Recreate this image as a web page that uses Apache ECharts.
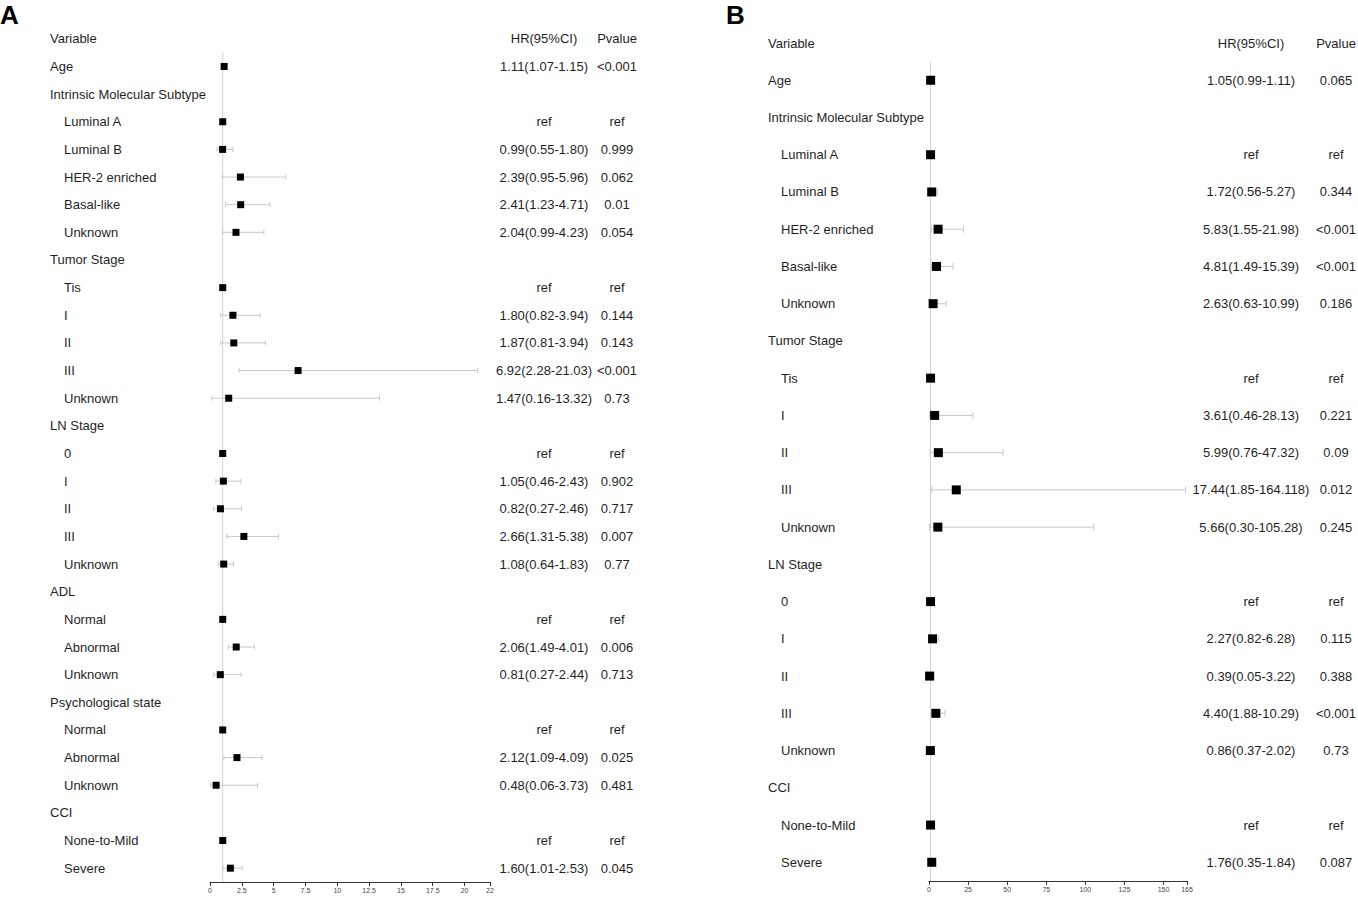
<!DOCTYPE html>
<html>
<head>
<meta charset="utf-8">
<script src="https://cdn.jsdelivr.net/npm/echarts@6/dist/echarts.min.js"></script>
<style>
  html, body { margin: 0; padding: 0; background: #fff; }
  #main { width: 1358px; height: 899px; }
</style>
</head>
<body>
<div id="main"></div>
<script>
// panel A rows (row 0 is the header)
var labelsA = ['Variable', 'Age', 'Intrinsic Molecular Subtype', 'Luminal A', 'Luminal B', 'HER-2 enriched', 'Basal-like', 'Unknown',
  'Tumor Stage', 'Tis', 'I', 'II', 'III', 'Unknown', 'LN Stage', '0', 'I', 'II', 'III', 'Unknown',
  'ADL', 'Normal', 'Abnormal', 'Unknown', 'Psychological state', 'Normal', 'Abnormal', 'Unknown', 'CCI', 'None-to-Mild', 'Severe'];
var indentA = [0, 0, 0, 1, 1, 1, 1, 1, 0, 1, 1, 1, 1, 1, 0, 1, 1, 1, 1, 1, 0, 1, 1, 1, 0, 1, 1, 1, 0, 1, 1];
var hrA = [null, 1.11, null, 1, 0.99, 2.39, 2.41, 2.04, null, 1, 1.80, 1.87, 6.92, 1.47, null, 1, 1.05, 0.82, 2.66, 1.08,
  null, 1, 2.06, 0.81, null, 1, 2.12, 0.48, null, 1, 1.60];
var lowA = [null, 1.07, null, null, 0.55, 0.95, 1.23, 0.99, null, null, 0.82, 0.85, 2.28, 0.16, null, null, 0.46, 0.27, 1.31, 0.64,
  null, null, 1.45, 0.30, null, null, 1.09, 0.06, null, null, 1.01];
var highA = [null, 1.15, null, null, 1.80, 5.96, 4.71, 4.23, null, null, 3.94, 4.35, 21.03, 13.32, null, null, 2.43, 2.46, 5.38, 1.83,
  null, null, 3.50, 2.44, null, null, 4.09, 3.73, null, null, 2.53];
var ciA = ['HR(95%CI)', '1.11(1.07-1.15)', '', 'ref', '0.99(0.55-1.80)', '2.39(0.95-5.96)', '2.41(1.23-4.71)', '2.04(0.99-4.23)',
  '', 'ref', '1.80(0.82-3.94)', '1.87(0.81-3.94)', '6.92(2.28-21.03)', '1.47(0.16-13.32)',
  '', 'ref', '1.05(0.46-2.43)', '0.82(0.27-2.46)', '2.66(1.31-5.38)', '1.08(0.64-1.83)',
  '', 'ref', '2.06(1.49-4.01)', '0.81(0.27-2.44)', '', 'ref', '2.12(1.09-4.09)', '0.48(0.06-3.73)', '', 'ref', '1.60(1.01-2.53)'];
var pA = ['Pvalue', '<0.001', '', 'ref', '0.999', '0.062', '0.01', '0.054', '', 'ref', '0.144', '0.143', '<0.001', '0.73',
  '', 'ref', '0.902', '0.717', '0.007', '0.77', '', 'ref', '0.006', '0.713', '', 'ref', '0.025', '0.481', '', 'ref', '0.045'];

// panel B rows
var labelsB = ['Variable', 'Age', 'Intrinsic Molecular Subtype', 'Luminal A', 'Luminal B', 'HER-2 enriched', 'Basal-like', 'Unknown',
  'Tumor Stage', 'Tis', 'I', 'II', 'III', 'Unknown', 'LN Stage', '0', 'I', 'II', 'III', 'Unknown', 'CCI', 'None-to-Mild', 'Severe'];
var indentB = [0, 0, 0, 1, 1, 1, 1, 1, 0, 1, 1, 1, 1, 1, 0, 1, 1, 1, 1, 1, 0, 1, 1];
var hrB = [null, 1.05, null, 1, 1.72, 5.83, 4.81, 2.63, null, 1, 3.61, 5.99, 17.44, 5.66, null, 1, 2.27, 0.39, 4.40, 0.86, null, 1, 1.76];
var lowB = [null, 0.99, null, null, 0.56, 1.55, 1.49, 0.63, null, null, 0.46, 0.76, 1.85, 0.30, null, null, 0.82, 0.05, 1.88, 0.37, null, null, 0.35];
var highB = [null, 1.11, null, null, 5.27, 21.98, 15.39, 10.99, null, null, 28.13, 47.32, 164.118, 105.28, null, null, 6.28, 3.22, 10.29, 2.02, null, null, 1.84];
var ciB = ['HR(95%CI)', '1.05(0.99-1.11)', '', 'ref', '1.72(0.56-5.27)', '5.83(1.55-21.98)', '4.81(1.49-15.39)', '2.63(0.63-10.99)',
  '', 'ref', '3.61(0.46-28.13)', '5.99(0.76-47.32)', '17.44(1.85-164.118)', '5.66(0.30-105.28)',
  '', 'ref', '2.27(0.82-6.28)', '0.39(0.05-3.22)', '4.40(1.88-10.29)', '0.86(0.37-2.02)', '', 'ref', '1.76(0.35-1.84)'];
var pB = ['Pvalue', '0.065', '', 'ref', '0.344', '<0.001', '<0.001', '0.186', '', 'ref', '0.221', '0.09', '0.012', '0.245',
  '', 'ref', '0.115', '0.388', '<0.001', '0.73', '', 'ref', '0.087'];

var FONT = '"Liberation Sans", Arial, sans-serif';
var TXT = '#1f1f1f';

var myChart = echarts.init(document.getElementById('main'), null, { renderer: 'svg' });

function rowIdx(arr) {
  return arr.map(function (v, i) { return String(i); });
}

// text column drawn on the row scale of the panel
function textColumn(idx, texts, xpos, align, indent) {
  return {
    type: 'custom',
    xAxisIndex: idx, yAxisIndex: idx,
    silent: true,
    clip: false,
    data: texts.map(function (t, i) { return [0, i]; }),
    encode: { x: 0, y: 1 },
    renderItem: function (params, api) {
      var i = api.value(1);
      var y = api.coord([0, i])[1];
      var x = xpos + (indent ? indent[i] * (idx === 0 ? 14 : 13) : 0);
      return {
        type: 'text',
        style: {
          text: texts[i], x: x, y: y,
          align: align, verticalAlign: 'middle',
          font: '13px ' + FONT, fill: TXT
        }
      };
    }
  };
}

function errorBars(idx, low, high, cap) {
  var data = [];
  low.forEach(function (l, i) { if (l != null) data.push([i, l, high[i]]); });
  return {
    type: 'custom',
    xAxisIndex: idx, yAxisIndex: idx,
    silent: true,
    data: data,
    encode: { x: [1, 2], y: 0 },
    renderItem: function (params, api) {
      var i = api.value(0);
      var a = api.coord([api.value(1), i]);
      var b = api.coord([api.value(2), i]);
      var st = { stroke: '#c9c9c9', lineWidth: 1 };
      return {
        type: 'group',
        children: [
          { type: 'line', shape: { x1: a[0], y1: a[1], x2: b[0], y2: b[1] }, style: st },
          { type: 'line', shape: { x1: a[0], y1: a[1] - cap, x2: a[0], y2: a[1] + cap }, style: st },
          { type: 'line', shape: { x1: b[0], y1: b[1] - cap, x2: b[0], y2: b[1] + cap }, style: st }
        ]
      };
    }
  };
}

function refLine(idx, n) {
  return {
    type: 'custom',
    xAxisIndex: idx, yAxisIndex: idx,
    silent: true,
    clip: false,
    data: [[1, 1]],
    encode: { x: 0, y: 1 },
    renderItem: function (params, api) {
      var step = api.size([0, 1])[1];
      var top = api.coord([1, 1]);
      var bot = api.coord([1, n - 1]);
      return {
        type: 'line',
        shape: { x1: top[0], y1: top[1] - step / 2, x2: bot[0], y2: bot[1] + step / 2 },
        style: { stroke: '#d0d0d0', lineWidth: 1 }
      };
    }
  };
}

function squares(idx, hr, size) {
  var data = [];
  hr.forEach(function (v, i) { if (v != null) data.push([v, i]); });
  return {
    type: 'scatter',
    xAxisIndex: idx, yAxisIndex: idx,
    symbol: 'rect',
    symbolSize: size,
    itemStyle: { color: '#000', opacity: 1 },
    silent: true,
    z: 5,
    data: data
  };
}

function valueAxis(idx, max, interval) {
  return {
    type: 'value',
    gridIndex: idx,
    min: 0, max: max, interval: interval,
    axisLine: { show: true, lineStyle: { color: '#333', width: 1 } },
    axisTick: { show: true, length: 4, lineStyle: { color: '#333' } },
    axisLabel: { fontSize: 7, color: '#444', margin: 5, fontFamily: FONT, showMaxLabel: true },
    splitLine: { show: false }
  };
}

function rowAxis(idx, labels) {
  return {
    type: 'category',
    gridIndex: idx,
    inverse: true,
    data: rowIdx(labels),
    axisLine: { show: false },
    axisTick: { show: false },
    axisLabel: { show: false },
    splitLine: { show: false }
  };
}

myChart.setOption({
  animation: false,
  title: [
    { text: 'A', left: 0, top: 2, padding: 0, textStyle: { fontSize: 26, fontWeight: 'bold', color: '#000', fontFamily: FONT } },
    { text: 'B', left: 726, top: 2, padding: 0, textStyle: { fontSize: 26, fontWeight: 'bold', color: '#000', fontFamily: FONT } }
  ],
  grid: [
    { left: 210, top: 25, width: 280, height: 857 },
    { left: 929, top: 24.4, width: 258, height: 856.5 }
  ],
  xAxis: [valueAxis(0, 22, 2.5), valueAxis(1, 165, 25)],
  yAxis: [rowAxis(0, labelsA), rowAxis(1, labelsB)],
  series: [
    refLine(0, labelsA.length),
    errorBars(0, lowA, highA, 2.5),
    squares(0, hrA, 7),
    textColumn(0, labelsA, 50, 'left', indentA),
    textColumn(0, ciA, 544, 'center'),
    textColumn(0, pA, 617, 'center'),
    refLine(1, labelsB.length),
    errorBars(1, lowB, highB, 3.5),
    squares(1, hrB, 9),
    textColumn(1, labelsB, 768, 'left', indentB),
    textColumn(1, ciB, 1251, 'center'),
    textColumn(1, pB, 1336, 'center')
  ]
});
</script>
</body>
</html>
